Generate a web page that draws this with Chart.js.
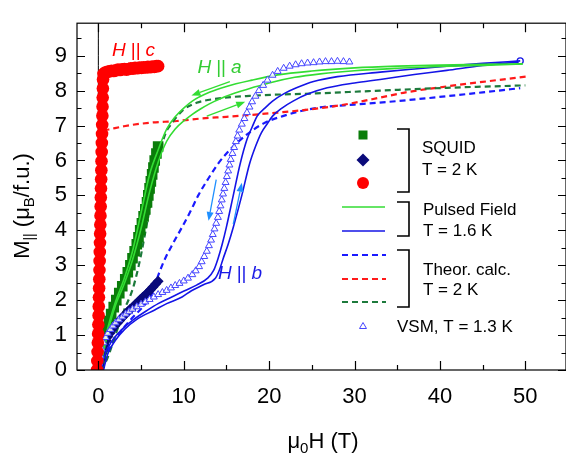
<!DOCTYPE html>
<html>
<head>
<meta charset="utf-8">
<script src="https://cdn.jsdelivr.net/npm/chart.js@4/dist/chart.umd.min.js"></script>
<style>
    html, body { margin: 0; padding: 0; background: #ffffff; }
</style>
</head>
<body>
<canvas id="magnetization_chart" width="566" height="454"></canvas>
<script>
// axis ranges and ticks
const x_min = -2.5, x_max = 54.76;
const y_min = 0, y_max = 9.93;
const x_major_ticks = [0, 10, 20, 30, 40, 50];
const x_minor_ticks = [5, 15, 25, 35, 45];
const y_major_ticks = [0, 1, 2, 3, 4, 5, 6, 7, 8, 9];
const y_minor_ticks = [0.5, 1.5, 2.5, 3.5, 4.5, 5.5, 6.5, 7.5, 8.5, 9.5];

// SQUID, T = 2 K
const squid_c_H = [-0.15, -0.12, -0.09, -0.06, -0.03, 0, 0.03, 0.05, 0.07, 0.09, 0.11, 0.13, 0.15, 0.17, 0.19, 0.21, 0.23, 0.25, 0.27, 0.29, 0.31, 0.33, 0.35, 0.37, 0.39, 0.41, 0.43, 0.45, 0.47, 0.49, 0.51, 0.53, 0.55, 0.6, 0.8, 1.05, 1.3, 1.55, 1.8, 2.05, 2.3, 2.55, 2.8, 3.05, 3.3, 3.55, 3.8, 4.05, 4.3, 4.55, 4.8, 5.05, 5.3, 5.55, 5.8, 6.05, 6.3, 6.55, 6.8, 7.0];
const squid_c_M = [0, 0.26, 0.52, 0.78, 1.04, 1.3, 1.56, 1.82, 2.08, 2.34, 2.6, 2.86, 3.12, 3.38, 3.64, 3.9, 4.16, 4.42, 4.68, 4.94, 5.2, 5.46, 5.72, 5.98, 6.24, 6.5, 6.76, 7.02, 7.28, 7.54, 7.8, 8.06, 8.32, 8.48, 8.52, 8.54, 8.55, 8.57, 8.56, 8.58, 8.6, 8.59, 8.61, 8.62, 8.6, 8.62, 8.64, 8.63, 8.65, 8.64, 8.66, 8.65, 8.67, 8.66, 8.68, 8.67, 8.69, 8.68, 8.7, 8.7];

const squid_a_H = [0, 0.15, 0.3, 0.45, 0.6, 0.8, 1.0, 1.25, 1.5, 1.8, 2.1, 2.45, 2.8, 3.15, 3.45, 3.75, 4.0, 4.25, 4.5, 4.7, 4.9, 5.1, 5.3, 5.5, 5.7, 5.85, 6.0, 6.15, 6.3, 6.45, 6.6, 6.8, 7.0];
const squid_a_M = [0, 0.2, 0.4, 0.6, 0.8, 1.0, 1.2, 1.4, 1.6, 1.8, 2.0, 2.2, 2.4, 2.6, 2.8, 3.0, 3.2, 3.4, 3.6, 3.8, 4.0, 4.2, 4.4, 4.6, 4.8, 5.0, 5.2, 5.4, 5.6, 5.8, 6.0, 6.2, 6.4];

const squid_b_H = [0, 0.1, 0.2, 0.35, 0.5, 0.7, 0.9, 1.1, 1.35, 1.6, 1.9, 2.2, 2.5, 2.8, 3.1, 3.4, 3.7, 4.0, 4.3, 4.6, 4.9, 5.2, 5.5, 5.8, 6.1, 6.4, 6.7, 7.0];
const squid_b_M = [0, 0.15, 0.3, 0.45, 0.58, 0.72, 0.84, 0.95, 1.05, 1.15, 1.25, 1.34, 1.42, 1.5, 1.58, 1.66, 1.73, 1.8, 1.87, 1.94, 2.01, 2.08, 2.15, 2.22, 2.3, 2.38, 2.46, 2.54];

// pulsed field, T = 1.6 K
const pulsed_a_up_H = [0, 0.5, 1, 1.5, 2, 3, 4, 5, 6, 7, 8, 9, 10, 11, 12, 13, 14, 16, 18, 20, 23, 26, 30, 35, 40, 45, 49.7];
const pulsed_a_up_M = [0, 0.4, 0.95, 1.45, 1.85, 2.45, 3.15, 4.05, 5.1, 5.95, 6.55, 6.9, 7.13, 7.32, 7.48, 7.62, 7.74, 7.93, 8.08, 8.22, 8.38, 8.48, 8.57, 8.64, 8.69, 8.72, 8.76];
const pulsed_a_down_H = [0, 0.5, 1, 2, 3, 4, 5, 6, 7, 7.5, 8, 9, 10, 11, 13, 15, 18, 21, 25, 30, 35, 40, 45, 49.7];
const pulsed_a_down_M = [0, 0.5, 1.1, 1.95, 2.6, 3.4, 4.5, 5.6, 6.3, 6.62, 6.9, 7.25, 7.5, 7.7, 7.95, 8.12, 8.3, 8.45, 8.56, 8.65, 8.7, 8.73, 8.75, 8.77];

const pulsed_b_down_H = [0.3, 0.8, 1.5, 2.8, 4, 5.8, 7, 8.6, 10.1, 11.5, 12.8, 13.5, 14, 14.5, 15, 15.8, 16.6, 17.4, 18, 18.6, 19.5, 20.4, 21.8, 23.2, 25.2, 28, 33, 37, 40.8, 45, 49.4];
const pulsed_b_down_M = [0, 0.46, 0.8, 1.17, 1.42, 1.72, 1.9, 2.09, 2.27, 2.43, 2.63, 2.85, 3.18, 3.6, 4.1, 5.0, 5.9, 6.6, 6.95, 7.27, 7.5, 7.7, 7.92, 8.08, 8.26, 8.4, 8.53, 8.62, 8.7, 8.78, 8.85];
const pulsed_b_up_H = [0.6, 1.1, 2, 3.1, 4.5, 6.6, 8, 9.8, 10.9, 12.3, 13.7, 14.2, 14.6, 15.2, 15.8, 16.8, 17.7, 18.4, 19.1, 19.8, 20.4, 21.5, 22.8, 24.5, 26.8, 30, 33, 37, 40.8, 45, 49.2];
const pulsed_b_up_M = [0, 0.46, 0.85, 1.17, 1.45, 1.72, 1.9, 2.09, 2.27, 2.44, 2.63, 2.88, 3.18, 3.6, 4.09, 5.0, 5.9, 6.4, 6.8, 7.06, 7.27, 7.5, 7.7, 7.9, 8.08, 8.22, 8.32, 8.46, 8.58, 8.72, 8.82];

// theoretical calculation, T = 2 K
const theory_b_H = [0, 1, 2, 3, 4, 5, 6, 6.4, 7, 7.8, 8.8, 9.8, 10.8, 11.7, 12.8, 14, 15, 16, 17.7, 19.5, 21.6, 24, 26.3, 30, 35, 40.8, 45, 49.4];
const theory_b_M = [0, 0.5, 0.9, 1.22, 1.5, 1.75, 2.05, 2.27, 2.7, 3.18, 3.65, 4.09, 4.55, 5.0, 5.45, 5.9, 6.2, 6.45, 6.8, 7.08, 7.27, 7.43, 7.53, 7.6, 7.7, 7.84, 7.95, 8.07];
const theory_c_H = [0, 0.15, 0.3, 0.6, 1.5, 3, 6, 9.2, 12, 15, 17.7, 21, 24, 27, 29.5, 33, 36, 40.8, 45, 50.1];
const theory_c_M = [0, 3.5, 6.6, 6.85, 6.9, 6.98, 7.08, 7.13, 7.2, 7.25, 7.3, 7.37, 7.44, 7.53, 7.63, 7.8, 7.95, 8.12, 8.25, 8.4];
const theory_a_H = [0.3, 1, 2, 3, 4, 4.5, 5, 5.5, 6, 6.5, 7, 7.5, 8, 8.4, 9.9, 11.5, 13.9, 17.7, 25.5, 33, 40.8, 50];
const theory_a_M = [0, 0.3, 1.0, 1.7, 2.3, 2.75, 3.3, 3.95, 4.6, 5.3, 5.95, 6.5, 6.85, 7.0, 7.44, 7.65, 7.77, 7.85, 7.92, 8.0, 8.08, 8.15];

// VSM, T = 1.3 K
const vsm_H = [0, 0.1, 0.25, 0.4, 0.6, 0.85, 1.1, 1.4, 1.7, 2.0, 2.4, 2.8, 3.2, 3.6, 4.0, 4.5, 5.0, 5.5, 6.0, 6.5, 7.0, 7.5, 8.0, 8.5, 9.0, 9.5, 10.0, 10.5, 11.0, 11.4, 11.8, 12.1, 12.4, 12.7, 12.95, 13.2, 13.4, 13.6, 13.8, 14.0, 14.15, 14.3, 14.45, 14.6, 14.75, 14.9, 15.05, 15.2, 15.35, 15.5, 15.7, 15.9, 16.1, 16.3, 16.5, 16.8, 17.1, 17.4, 17.7, 18.0, 18.4, 18.8, 19.3, 19.8, 20.4, 21.0, 21.7, 22.4, 23.1, 23.8, 24.5, 25.2, 25.9, 26.6, 27.3, 28.0, 28.7, 29.4];
const vsm_M = [0, 0.2, 0.4, 0.6, 0.78, 0.93, 1.05, 1.16, 1.26, 1.35, 1.44, 1.52, 1.6, 1.67, 1.74, 1.81, 1.88, 1.95, 2.02, 2.09, 2.16, 2.22, 2.28, 2.35, 2.42, 2.48, 2.55, 2.63, 2.73, 2.84, 2.96, 3.1, 3.25, 3.4, 3.56, 3.72, 3.88, 4.04, 4.2, 4.37, 4.54, 4.7, 4.87, 5.04, 5.2, 5.37, 5.54, 5.7, 5.87, 6.03, 6.2, 6.37, 6.54, 6.7, 6.87, 7.04, 7.2, 7.37, 7.53, 7.68, 7.84, 8.0, 8.15, 8.3, 8.44, 8.55, 8.64, 8.7, 8.74, 8.77, 8.79, 8.8, 8.82, 8.83, 8.83, 8.84, 8.83, 8.82];

// zero field line
const zero_H = [0, 0];
const zero_M = [0, 9.93];

// sweep arrows [H, M] from -> to
const green_arrows_from = [[15.4, 8.26], [12.7, 7.27]];
const green_arrows_to = [[10.9, 7.86], [17.2, 7.68]];
const blue_arrows_from = [[13.8, 5.45], [15.8, 4.18]];
const blue_arrows_to = [[12.9, 4.27], [16.8, 5.36]];

// field direction labels [text, H, M]
const direction_labels = [['c', 1.6, 9.0], ['a', 11.6, 8.5], ['b', 14.0, 2.6]];

const FONT = '"Liberation Sans", Arial, Helvetica, sans-serif';
const col_red = '#ff0000';
const col_sq_green = '#0a7d0a';
const col_navy = '#0a0a7a';
const col_pulse_green = '#33dd33';
const col_pulse_blue = '#1414e6';
const col_th_blue = '#1a1aff';
const col_th_red = '#ff1a1a';
const col_th_green = '#1d7a3c';
const col_vsm = '#4545ff';
const col_arrow_blue = '#1e8fff';
const direction_colors = { c: '#ff0000', a: '#33cc33', b: '#1a1ae6' };

function to_points(hs, ms) {
    return hs.map((h, i) => ({ x: h, y: ms[i] }));
}

function line_set(hs, ms, color, dashed, width) {
    return {
        data: to_points(hs, ms),
        showLine: true,
        borderColor: color,
        borderWidth: width,
        borderDash: dashed ? [6, 4] : [],
        pointRadius: 0,
        pointHoverRadius: 0,
        cubicInterpolationMode: 'monotone',
        fill: false
    };
}

function marker_set(hs, ms, color, style, radius) {
    return {
        data: to_points(hs, ms),
        showLine: false,
        pointStyle: style,
        pointRadius: radius,
        pointHoverRadius: radius,
        pointBackgroundColor: color,
        pointBorderColor: color,
        pointBorderWidth: 0
    };
}

function draw_arrow(ctx, x0, y0, x1, y1, color) {
    const ang = Math.atan2(y1 - y0, x1 - x0);
    const head = 9, half = 3.5;
    const c = Math.cos(ang), s = Math.sin(ang);
    ctx.strokeStyle = color;
    ctx.fillStyle = color;
    ctx.lineWidth = 1.3;
    ctx.setLineDash([]);
    ctx.beginPath();
    ctx.moveTo(x0, y0);
    ctx.lineTo(x1 - head * c, y1 - head * s);
    ctx.stroke();
    ctx.beginPath();
    ctx.moveTo(x1, y1);
    ctx.lineTo(x1 - head * c + half * s, y1 - head * s - half * c);
    ctx.lineTo(x1 - head * c - half * s, y1 - head * s + half * c);
    ctx.closePath();
    ctx.fill();
}

function draw_parts(ctx, parts, x, y) {
    // parts: [text, size, shift]
    let cx = x;
    parts.forEach(p => {
        ctx.font = p[1] + 'px ' + FONT;
        ctx.fillText(p[0], cx, y + p[2]);
        cx += ctx.measureText(p[0]).width;
    });
}

function parts_width(ctx, parts) {
    let w = 0;
    parts.forEach(p => {
        ctx.font = p[1] + 'px ' + FONT;
        w += ctx.measureText(p[0]).width;
    });
    return w;
}

const decorations = {
    id: 'decorations',
    afterDatasetsDraw(chart) {
        const { ctx, chartArea: a, scales: { x, y } } = chart;
        ctx.save();

        // frame and inward ticks
        ctx.strokeStyle = '#000';
        ctx.lineWidth = 1.2;
        ctx.setLineDash([]);
        ctx.strokeRect(a.left, a.top, a.right - a.left, a.bottom - a.top);
        const x_tick = (v, len) => {
            const px = Math.round(x.getPixelForValue(v)) + 0.5;
            ctx.beginPath();
            ctx.moveTo(px, a.bottom); ctx.lineTo(px, a.bottom - len);
            ctx.moveTo(px, a.top); ctx.lineTo(px, a.top + len);
            ctx.stroke();
        };
        const y_tick = (v, len) => {
            const py = Math.round(y.getPixelForValue(v)) + 0.5;
            ctx.beginPath();
            ctx.moveTo(a.left, py); ctx.lineTo(a.left + len, py);
            ctx.moveTo(a.right, py); ctx.lineTo(a.right - len, py);
            ctx.stroke();
        };
        x_major_ticks.forEach(v => x_tick(v, 9));
        x_minor_ticks.forEach(v => x_tick(v, 5));
        y_major_ticks.forEach(v => y_tick(v, 8));
        y_minor_ticks.forEach(v => y_tick(v, 4.5));

        // sweep arrows
        green_arrows_from.forEach((f, i) => {
            const t = green_arrows_to[i];
            draw_arrow(ctx, x.getPixelForValue(f[0]), y.getPixelForValue(f[1]),
                x.getPixelForValue(t[0]), y.getPixelForValue(t[1]), col_pulse_green);
        });
        blue_arrows_from.forEach((f, i) => {
            const t = blue_arrows_to[i];
            draw_arrow(ctx, x.getPixelForValue(f[0]), y.getPixelForValue(f[1]),
                x.getPixelForValue(t[0]), y.getPixelForValue(t[1]), col_arrow_blue);
        });

        // H || a,b,c labels
        ctx.textBaseline = 'alphabetic';
        ctx.textAlign = 'left';
        direction_labels.forEach(l => {
            let cx = x.getPixelForValue(l[1]);
            const cy = y.getPixelForValue(l[2]);
            ctx.fillStyle = direction_colors[l[0]];
            ctx.font = 'italic 19px ' + FONT;
            ctx.fillText('H', cx, cy);
            cx += ctx.measureText('H').width + 5;
            ctx.font = '19px ' + FONT;
            ctx.fillText('||', cx, cy);
            cx += ctx.measureText('||').width + 5;
            ctx.font = 'italic 19px ' + FONT;
            ctx.fillText(l[0], cx, cy);
        });

        // legend
        ctx.fillStyle = col_sq_green;
        ctx.fillRect(358.5, 130.5, 9, 9);
        ctx.fillStyle = col_navy;
        ctx.beginPath();
        ctx.moveTo(363, 153.5); ctx.lineTo(369.5, 160); ctx.lineTo(363, 166.5); ctx.lineTo(356.5, 160);
        ctx.closePath(); ctx.fill();
        ctx.fillStyle = col_red;
        ctx.beginPath(); ctx.arc(363, 183, 6, 0, Math.PI * 2); ctx.fill();

        ctx.lineWidth = 1.6;
        ctx.strokeStyle = col_pulse_green;
        ctx.beginPath(); ctx.moveTo(342, 207); ctx.lineTo(385, 207); ctx.stroke();
        ctx.strokeStyle = col_pulse_blue;
        ctx.beginPath(); ctx.moveTo(342, 231); ctx.lineTo(385, 231); ctx.stroke();

        ctx.lineWidth = 2.2;
        ctx.setLineDash([6, 4]);
        [[255, col_th_blue], [279, col_th_red], [302, col_th_green]].forEach(d => {
            ctx.strokeStyle = d[1];
            ctx.beginPath(); ctx.moveTo(342, d[0]); ctx.lineTo(386, d[0]); ctx.stroke();
        });
        ctx.setLineDash([]);

        ctx.strokeStyle = col_vsm;
        ctx.fillStyle = '#fff';
        ctx.lineWidth = 1;
        ctx.beginPath(); ctx.moveTo(363, 322.5); ctx.lineTo(366.5, 328.5); ctx.lineTo(359.5, 328.5);
        ctx.closePath(); ctx.fill(); ctx.stroke();

        ctx.strokeStyle = '#000';
        ctx.lineWidth = 1.6;
        [[129, 192], [202, 236], [250, 307]].forEach(b => {
            ctx.beginPath();
            ctx.moveTo(397, b[0]); ctx.lineTo(409, b[0]); ctx.lineTo(409, b[1]); ctx.lineTo(397, b[1]);
            ctx.stroke();
        });

        ctx.fillStyle = '#000';
        ctx.font = '17px ' + FONT;
        ctx.textBaseline = 'middle';
        ctx.fillText('SQUID', 422, 148);
        ctx.fillText('T = 2 K', 422, 170);
        ctx.fillText('Pulsed Field', 423, 210);
        ctx.fillText('T = 1.6 K', 423, 231);
        ctx.fillText('Theor. calc.', 423, 270);
        ctx.fillText('T = 2 K', 423, 290);
        ctx.fillText('VSM, T = 1.3 K', 397, 327);

        // axis titles
        ctx.textBaseline = 'alphabetic';
        const x_title = [['\u03bc', 22, 0], ['0', 15, 5], ['H (T)', 22, 0]];
        draw_parts(ctx, x_title, 323 - parts_width(ctx, x_title) / 2, 448);

        const y_title = [['M', 22, 0], ['||', 14, 5], [' (\u03bc', 22, 0], ['B', 15, 5], ['/f.u.)', 22, 0]];
        ctx.translate(28.5, 206);
        ctx.rotate(-Math.PI / 2);
        draw_parts(ctx, y_title, -parts_width(ctx, y_title) / 2, 0);

        ctx.restore();
    }
};

const blue_end = pulsed_b_down_H.length - 1;
const pulsed_b_down_set = line_set(pulsed_b_down_H, pulsed_b_down_M, col_pulse_blue, false, 1.6);
pulsed_b_down_set.pointRadius = ctx => ctx.dataIndex === blue_end ? 3 : 0;
pulsed_b_down_set.pointBorderColor = col_pulse_blue;
pulsed_b_down_set.pointBackgroundColor = 'rgba(255,255,255,0)';
pulsed_b_down_set.pointBorderWidth = 1.3;

const vsm_set = marker_set(vsm_H, vsm_M, col_vsm, 'triangle', 4);
vsm_set.pointBackgroundColor = 'rgba(255,255,255,0.85)';
vsm_set.pointBorderWidth = 1;

new Chart(document.getElementById('magnetization_chart'), {
    type: 'scatter',
    data: {
        datasets: [
            marker_set(squid_c_H, squid_c_M, col_red, 'circle', 6.3),
            vsm_set,
            line_set(pulsed_a_up_H, pulsed_a_up_M, col_pulse_green, false, 1.6),
            line_set(pulsed_a_down_H, pulsed_a_down_M, col_pulse_green, false, 1.6),
            pulsed_b_down_set,
            line_set(pulsed_b_up_H, pulsed_b_up_M, col_pulse_blue, false, 1.6),
            marker_set(squid_b_H, squid_b_M, col_navy, 'rectRot', 5.5),
            marker_set(squid_a_H, squid_a_M, col_sq_green, 'rect', 7.5),
            line_set(theory_a_H, theory_a_M, col_th_green, true, 2.2),
            line_set(theory_c_H, theory_c_M, col_th_red, true, 2.2),
            line_set(theory_b_H, theory_b_M, col_th_blue, true, 2.2),
            line_set(zero_H, zero_M, '#000000', false, 1)
        ]
    },
    options: {
        responsive: false,
        animation: false,
        events: [],
        layout: { autoPadding: false, padding: { top: 6, right: 0, left: 0, bottom: 0 } },
        plugins: {
            legend: { display: false },
            tooltip: { enabled: false }
        },
        scales: {
            x: {
                type: 'linear',
                min: x_min,
                max: x_max,
                grid: { display: false, drawTicks: false },
                border: { display: false },
                ticks: { color: '#000', font: { family: FONT, size: 22 }, padding: 14, autoSkip: false },
                afterBuildTicks: s => { s.ticks = x_major_ticks.map(v => ({ value: v })); },
                afterFit: s => { s.height = 84; }
            },
            y: {
                type: 'linear',
                min: y_min,
                max: y_max,
                grid: { display: false, drawTicks: false },
                border: { display: false },
                ticks: { color: '#000', font: { family: FONT, size: 22 }, padding: 10, autoSkip: false },
                afterBuildTicks: s => { s.ticks = y_major_ticks.map(v => ({ value: v })); },
                afterFit: s => { s.width = 77; }
            }
        }
    },
    plugins: [decorations]
});
</script>
</body>
</html>
